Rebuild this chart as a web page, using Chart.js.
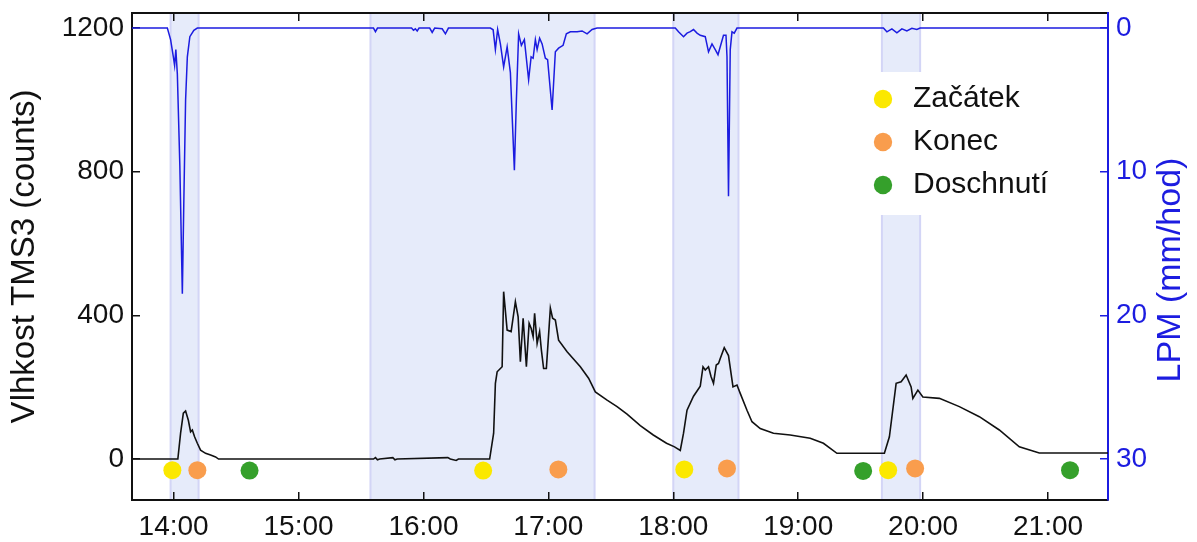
<!DOCTYPE html>
<html>
<head>
<meta charset="utf-8">
<script src="https://cdn.jsdelivr.net/npm/chart.js@4.4.1/dist/chart.umd.min.js"></script>
<style>
  html, body { margin: 0; padding: 0; background: #ffffff; }
  #wrap { width: 1197px; height: 542px; }
</style>
</head>
<body>
<div id="wrap"><canvas id="c" width="1197" height="542"></canvas></div>
<script>
// ---------- data (time in decimal hours) ----------
const xTickValues = [14, 15, 16, 17, 18, 19, 20, 21];
const xTickLabels = ['14:00', '15:00', '16:00', '17:00', '18:00', '19:00', '20:00', '21:00'];
const leftTickValues = [0, 400, 800, 1200];
const leftTickLabels = ['0', '400', '800', '1200'];
const rightTickValues = [0, 10, 20, 30];
const rightTickLabels = ['0', '10', '20', '30'];

const leftAxisTitle = 'Vlhkost TMS3 (counts)';
const rightAxisTitle = 'LPM (mm/hod)';

// soil moisture TMS3 (counts)
const moistTime = [13.667, 14.034, 14.056, 14.078, 14.096, 14.118, 14.136, 14.150, 14.168, 14.190, 14.216, 14.256, 14.296, 14.336, 14.360,
  15.600, 15.616, 15.632, 15.650, 15.755, 15.772, 15.790, 16.195, 16.215, 16.262, 16.280,
  16.530, 16.562, 16.576, 16.590, 16.616, 16.630, 16.642, 16.670, 16.702, 16.736, 16.758, 16.776, 16.798, 16.824, 16.846, 16.862, 16.878, 16.890, 16.910, 16.930, 16.944, 16.962, 16.984, 17.016, 17.034, 17.056, 17.082, 17.150, 17.256, 17.322, 17.376, 17.470, 17.550, 17.630, 17.736, 17.840, 17.946, 18.010, 18.056,
  18.082, 18.110, 18.162, 18.216, 18.238, 18.256, 18.282, 18.302, 18.322, 18.344, 18.362, 18.376, 18.408, 18.442, 18.478, 18.510, 18.536, 18.590, 18.630, 18.696, 18.802, 18.936, 19.096, 19.202, 19.310, 19.416, 19.690,
  19.730, 19.784, 19.824, 19.864, 19.904, 19.918, 19.958, 19.998, 20.130, 20.290, 20.450, 20.610, 20.770, 20.930, 21.480];
const moistValue = [0, 0, 72, 128, 134, 108, 76, 81, 62, 44, 25, 16, 11, 6, 0,
  0, 4, -2, 0, 4, -2, 0, 4, 0, -4, 0,
  0, 72, 211, 243, 252, 257, 466, 359, 355, 438, 396, 271, 392, 257, 378, 364, 341, 406, 322, 355, 304, 252, 252, 420, 392, 387, 331, 299, 257, 225, 187, 164, 146, 125, 93, 67, 44, 34, 24,
  72, 136, 175, 203, 257, 248, 257, 230, 211, 262, 266, 280, 310, 288, 201, 206, 183, 136, 104, 85, 72, 67, 58, 44, 16, 16, 16,
  62, 211, 215, 234, 201, 169, 192, 173, 169, 146, 118, 81, 34, 17, 17];

// rain intensity LPM (mm/hod)
const rainTime = [13.667, 13.950, 13.976, 13.998, 14.008, 14.018, 14.030, 14.050, 14.070, 14.082, 14.096, 14.110, 14.130, 14.162, 14.190,
  15.600, 15.616, 15.632, 15.905, 15.920, 15.935, 15.950, 15.965, 16.050, 16.070, 16.090, 16.150, 16.176, 16.200,
  16.536, 16.558, 16.576, 16.594, 16.616, 16.642, 16.670, 16.696, 16.728, 16.744, 16.762, 16.784, 16.808, 16.842, 16.862, 16.878, 16.896, 16.910, 16.930, 16.950, 16.976, 16.994, 17.030, 17.056, 17.082, 17.118, 17.144, 17.176, 17.230, 17.270, 17.310, 17.350, 17.390,
  18.016, 18.042, 18.082, 18.110, 18.136, 18.162, 18.190, 18.216, 18.256, 18.282, 18.310, 18.336, 18.358, 18.376, 18.402, 18.422, 18.430, 18.442, 18.456, 18.470, 18.488, 18.510,
  19.682, 19.710, 19.750, 19.790, 19.830, 19.870, 19.910, 19.950, 19.976, 21.480];
const rainValue = [0, 0, 0.8, 2.0, 2.6, 1.5, 3.2, 9.6, 18.5, 12.0, 5.0, 2.0, 0.6, 0.15, 0,
  0, 0.25, 0, 0, 0.15, 0.05, 0.2, 0, 0, 0.3, 0, 0.05, 0.4, 0,
  0, 0.12, 1.5, 0.1, 1.1, 2.7, 1.3, 3.1, 9.9, 5.0, 0.4, 1.2, 0.8, 3.6, 2.0, 2.1, 0.8, 1.5, 0.7, 1.1, 2.1, 2.2, 5.7, 1.65, 1.4, 1.2, 0.4, 0.26, 0.26, 0.2, 0.4, 0.1, 0,
  0, 0.26, 0.6, 0.35, 0.25, 0.1, 0.35, 0.5, 0.6, 1.65, 1.1, 1.5, 1.85, 1.3, 0.5, 0.5, 2.0, 11.7, 1.5, 0.26, 0.35, 0,
  0, 0.26, 0.05, 0.33, 0.05, 0.2, 0.02, 0.1, 0, 0];

// rain episodes (shaded bands)
const bandStart = [13.976, 15.576, 18.000, 19.670];
const bandEnd   = [14.200, 17.370, 18.522, 19.976];

// event markers
const startTime = [13.990, 16.478, 18.088, 19.720];
const startLevel = [-31, -32, -29, -31];
const endTime = [14.190, 17.080, 18.430, 19.936];
const endLevel = [-31, -29, -26, -26];
const dryTime = [14.608, 19.520, 21.176];
const dryLevel = [-32, -33, -31];

const seriesNames = ['Začátek', 'Konec', 'Doschnutí'];

// ---------- styling ----------
const FONT = '"Liberation Sans", Arial, sans-serif';
const BLUE = '#1c1ce0';
const INK = '#111111';
const X_MIN = 13.667, X_MAX = 21.48;

const pts = (t, v) => t.map((x, i) => ({ x: x, y: v[i] }));
const lookup = (vals, labels) => (v) => { const i = vals.indexOf(v); return i >= 0 ? labels[i] : ''; };
const noPad = (s) => { s.paddingTop = 0; s.paddingBottom = 0; s.paddingLeft = 0; s.paddingRight = 0; };

const markerSet = (label, t, v, color) => ({
  type: 'line', label: label, data: pts(t, v), showLine: false,
  pointRadius: 9, pointHoverRadius: 9, pointBorderWidth: 0, pointStyle: 'circle',
  backgroundColor: color, borderColor: color, borderWidth: 0,
  xAxisID: 'x', yAxisID: 'y'
});

const bandPlugin = {
  id: 'bands',
  beforeDraw(chart, args, opts) {
    const { ctx, chartArea: a } = chart;
    const xs = chart.scales.x;
    ctx.save();
    bandStart.forEach((s, i) => {
      const x0 = xs.getPixelForValue(s), x1 = xs.getPixelForValue(bandEnd[i]);
      ctx.fillStyle = opts.fill;
      ctx.fillRect(x0, a.top, x1 - x0, a.bottom - a.top);
      ctx.strokeStyle = opts.edge;
      ctx.lineWidth = 2;
      ctx.beginPath();
      ctx.moveTo(x0, a.top); ctx.lineTo(x0, a.bottom);
      ctx.moveTo(x1, a.top); ctx.lineTo(x1, a.bottom);
      ctx.stroke();
    });
    const b = opts.legendBackdrop;
    ctx.fillStyle = '#ffffff';
    ctx.fillRect(b.x, b.y, b.w, b.h);
    ctx.restore();
  },
  afterLayout(chart, args, opts) {
    const lg = chart.legend;
    if (!lg) return;
    const p = opts.legendAt;
    lg.left = p.x; lg.top = p.y; lg.width = p.w; lg.height = p.h;
    lg.right = p.x + p.w; lg.bottom = p.y + p.h;
  },
  afterDraw(chart, args, opts) {
    const t = opts.rightTitle;
    const ctx = chart.ctx;
    ctx.save();
    ctx.translate(t.x, t.y);
    ctx.rotate(-Math.PI / 2);
    ctx.font = t.size + 'px ' + FONT;
    ctx.fillStyle = BLUE;
    ctx.textAlign = 'center';
    ctx.textBaseline = 'middle';
    ctx.fillText(rightAxisTitle, 0, 0);
    ctx.restore();
  }
};

const tickGrid = (color) => ({ display: true, drawOnChartArea: false, drawTicks: true, tickLength: -8, color: color, lineWidth: 1.5 });

new Chart(document.getElementById('c'), {
  type: 'line',
  data: {
    datasets: [
      markerSet(seriesNames[0], startTime, startLevel, '#fbe800'),
      markerSet(seriesNames[1], endTime, endLevel, '#f99d4d'),
      markerSet(seriesNames[2], dryTime, dryLevel, '#35a02b'),
      {
        label: leftAxisTitle, data: pts(moistTime, moistValue),
        borderColor: INK, backgroundColor: INK, borderWidth: 1.6, pointRadius: 0, tension: 0,
        xAxisID: 'x', yAxisID: 'y'
      },
      {
        label: rightAxisTitle, data: pts(rainTime, rainValue),
        borderColor: BLUE, backgroundColor: BLUE, borderWidth: 1.5, pointRadius: 0, tension: 0,
        xAxisID: 'x', yAxisID: 'y2'
      }
    ]
  },
  options: {
    responsive: false,
    animation: false,
    devicePixelRatio: 1,
    events: [],
    layout: { padding: 0 },
    plugins: {
      tooltip: { enabled: false },
      legend: {
        position: 'chartArea',
        align: 'start',
        labels: {
          usePointStyle: true, boxWidth: 30, boxHeight: 13, padding: 13,
          color: INK, font: { family: FONT, size: 30 },
          filter: (item) => item.datasetIndex < 3
        }
      },
      bands: {
        fill: '#e6ebfa',
        edge: '#d3d5f6',
        legendBackdrop: { x: 862, y: 72, w: 205, h: 143 },
        legendAt: { x: 855, y: 71, w: 240, h: 200 },
        rightTitle: { x: 1171, y: 270, size: 34 }
      }
    },
    scales: {
      x: {
        type: 'linear', position: 'bottom', min: X_MIN, max: X_MAX,
        afterBuildTicks: (s) => { s.ticks = xTickValues.map(v => ({ value: v })); },
        afterFit: (s) => { s.height = 42; noPad(s); },
        ticks: {
          callback: lookup(xTickValues, xTickLabels),
          font: { family: FONT, size: 28 }, color: INK, padding: 18, maxRotation: 0, autoSkip: false
        },
        grid: tickGrid(INK),
        border: { display: true, color: INK, width: 2 }
      },
      xTop: {
        type: 'linear', axis: 'x', position: 'top', min: X_MIN, max: X_MAX,
        afterBuildTicks: (s) => { s.ticks = xTickValues.map(v => ({ value: v })); },
        afterFit: (s) => { s.height = 13; noPad(s); },
        ticks: { display: false },
        grid: tickGrid(INK),
        border: { display: true, color: INK, width: 2 }
      },
      y: {
        type: 'linear', position: 'left', min: -114, max: 1242,
        afterBuildTicks: (s) => { s.ticks = leftTickValues.map(v => ({ value: v })); },
        afterFit: (s) => { s.width = 132; noPad(s); },
        ticks: { callback: lookup(leftTickValues, leftTickLabels), font: { family: FONT, size: 28 }, color: INK, padding: 16 },
        grid: tickGrid(INK),
        border: { display: true, color: INK, width: 2 },
        title: { display: true, text: leftAxisTitle, color: INK, font: { family: FONT, size: 33 }, padding: { top: 5, bottom: 0 } }
      },
      y2: {
        type: 'linear', position: 'right', reverse: true, min: -1.05, max: 32.85,
        afterBuildTicks: (s) => { s.ticks = rightTickValues.map(v => ({ value: v })); },
        afterFit: (s) => { s.width = 89; noPad(s); },
        ticks: { callback: lookup(rightTickValues, rightTickLabels), font: { family: FONT, size: 28 }, color: BLUE, padding: 16 },
        grid: tickGrid(BLUE),
        border: { display: true, color: BLUE, width: 2 }
      }
    }
  },
  plugins: [bandPlugin]
});
</script>
</body>
</html>
